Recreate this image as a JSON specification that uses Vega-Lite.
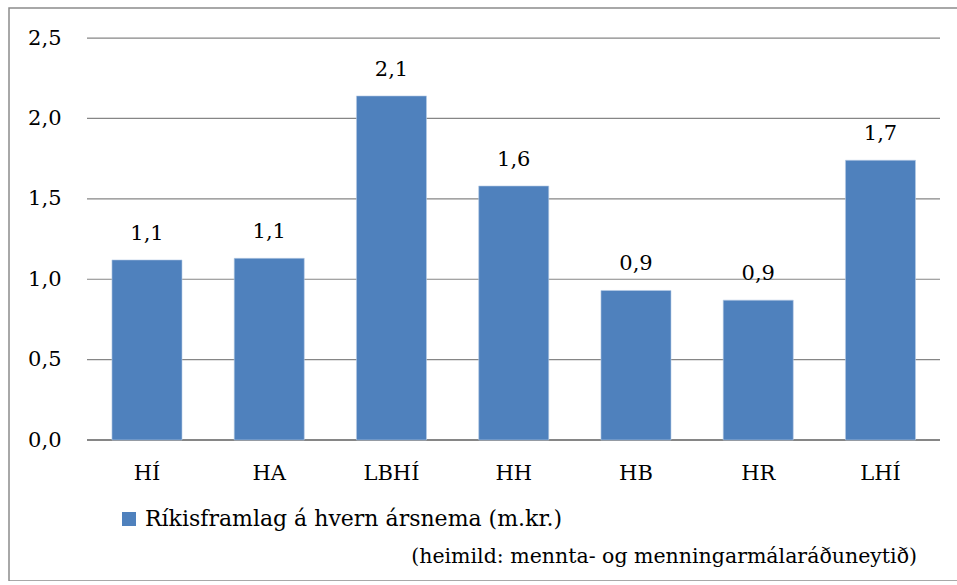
{
  "$schema": "https://vega.github.io/schema/vega-lite/v6.json",
  "width": 950,
  "height": 573,
  "autosize": {"type": "none"},
  "padding": {"left": 9, "top": 8, "right": 0, "bottom": 0},
  "background": "white",
  "config": {
    "locale": {"number": {"decimal": ",", "thousands": ".", "grouping": [3], "currency": ["", " kr."]}},
    "font": "DejaVu Serif",
    "view": {"stroke": "#8c8c8c", "strokeWidth": 1.5},
    "axis": {"labelFont": "DejaVu Serif", "labelColor": "#000000"},
    "text": {"font": "DejaVu Serif"}
  },
  "title": {
    "text": "(heimild: mennta- og menningarmálaráðuneytið)",
    "orient": "bottom",
    "anchor": "end",
    "frame": "group",
    "offset": -34,
    "dx": -42,
    "fontSize": 20.5,
    "fontWeight": "normal",
    "font": "DejaVu Serif",
    "color": "#000000"
  },
  "datasets": {
    "main": [
      {"skoli": "HÍ", "value": 1.12, "series": "Ríkisframlag á hvern ársnema (m.kr.)"},
      {"skoli": "HA", "value": 1.13, "series": "Ríkisframlag á hvern ársnema (m.kr.)"},
      {"skoli": "LBHÍ", "value": 2.14, "series": "Ríkisframlag á hvern ársnema (m.kr.)"},
      {"skoli": "HH", "value": 1.58, "series": "Ríkisframlag á hvern ársnema (m.kr.)"},
      {"skoli": "HB", "value": 0.93, "series": "Ríkisframlag á hvern ársnema (m.kr.)"},
      {"skoli": "HR", "value": 0.87, "series": "Ríkisframlag á hvern ársnema (m.kr.)"},
      {"skoli": "LHÍ", "value": 1.74, "series": "Ríkisframlag á hvern ársnema (m.kr.)"}
    ],
    "grid": [{"v": 0}, {"v": 0.5}, {"v": 1}, {"v": 1.5}, {"v": 2}, {"v": 2.5}]
  },
  "layer": [
    {
      "data": {"name": "grid"},
      "mark": {"type": "rule", "color": "#868686"},
      "encoding": {
        "y": {
          "field": "v",
          "type": "quantitative",
          "scale": {"domain": [-0.877, 2.687], "zero": false, "nice": false},
          "axis": {
            "values": [0, 0.5, 1, 1.5, 2, 2.5],
            "format": ".1f",
            "grid": false,
            "domain": false,
            "ticks": false,
            "tickSize": 0,
            "labelPadding": -52,
            "labelFontSize": 21,
            "title": null
          }
        },
        "x": {"datum": 0, "type": "quantitative", "scale": {"domain": [-0.09144, 1.02227], "zero": false, "nice": false}, "axis": null},
        "x2": {"datum": 1},
        "strokeWidth": {"condition": {"test": "datum.v === 0", "value": 2}, "value": 1.2}
      }
    },
    {
      "data": {"name": "main"},
      "layer": [
        {
          "mark": {"type": "bar", "stroke": "#b9cde5", "strokeWidth": 0.6},
          "encoding": {
            "x": {
              "field": "skoli",
              "type": "nominal",
              "sort": null,
              "scale": {"paddingInner": 0.427, "paddingOuter": 0.599, "align": 0.703},
              "axis": {
                "orient": "bottom",
                "domain": false,
                "ticks": false,
                "tickSize": 0,
                "labelPadding": -119,
                "labelFontSize": 21,
                "labelAngle": 0,
                "title": null
              }
            },
            "y": {"field": "value", "type": "quantitative"},
            "y2": {"datum": 0},
            "color": {
              "field": "series",
              "type": "nominal",
              "scale": {"range": ["#4F81BD"]},
              "legend": {
                "orient": "none",
                "legendX": 109,
                "legendY": 500,
                "title": null,
                "padding": 0,
                "symbolType": "square",
                "symbolSize": 196,
                "symbolStrokeWidth": 0,
                "labelFontSize": 22,
                "labelFont": "DejaVu Serif",
                "labelColor": "#000000",
                "labelOffset": 5,
                "labelLimit": 800
              }
            }
          }
        },
        {
          "mark": {"type": "text", "baseline": "alphabetic", "dy": -20, "fontSize": 21, "color": "#000000", "font": "DejaVu Serif"},
          "encoding": {
            "x": {"field": "skoli", "type": "nominal", "sort": null},
            "y": {"field": "value", "type": "quantitative"},
            "text": {"field": "value", "type": "quantitative", "format": ".1f"}
          }
        }
      ]
    }
  ],
  "resolve": {"scale": {"x": "independent"}, "axis": {"x": "independent"}}
}
